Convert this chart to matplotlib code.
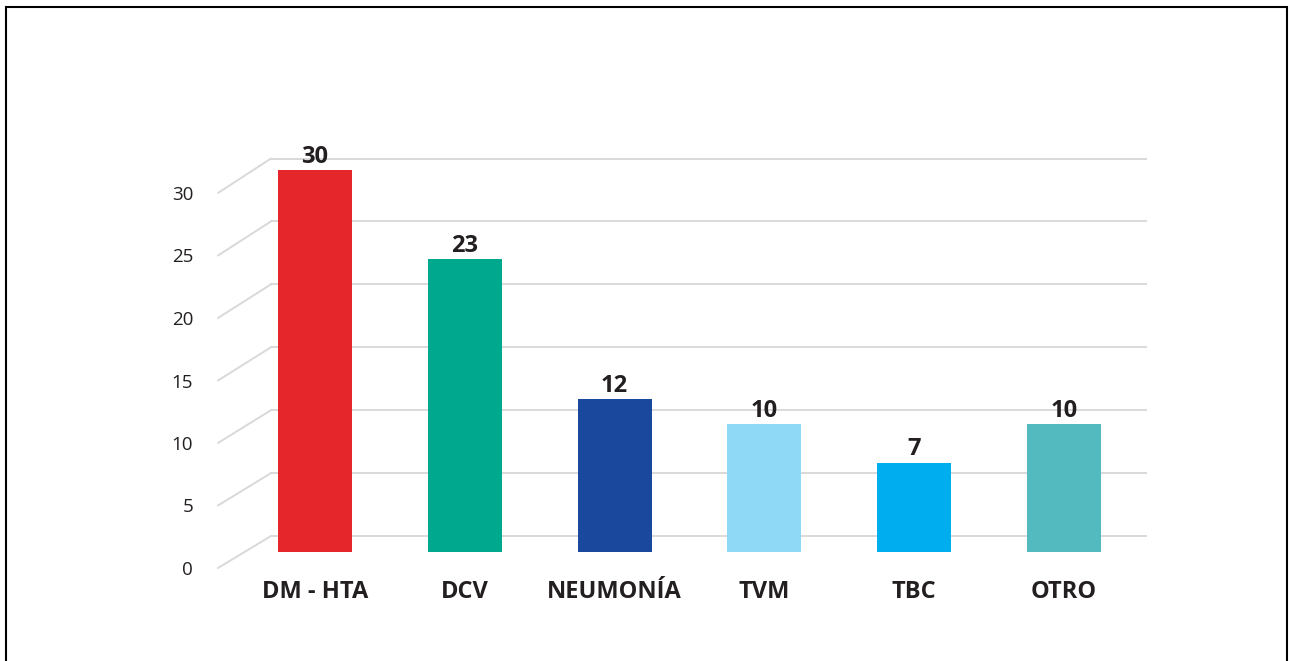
"""
Causas de ingreso - barras con pared de fondo en perspectiva
"""

import matplotlib.pyplot as plt
from matplotlib.patches import ConnectionPatch, Rectangle

# datos
categories = ['DM - HTA', 'DCV', 'NEUMONÍA', 'TVM', 'TBC', 'OTRO']
values = [30, 23, 12, 10, 7, 10]
colors = ['#e5272b', '#00a88e', '#1a489c', '#8fd8f6', '#00aeef', '#53babf']
ticks = [0, 5, 10, 15, 20, 25, 30]

W, H = 1290, 661
TXT = '#231f20'
GRID = '#d9d9d9'

plt.rcParams['font.family'] = ['Open Sans', 'DejaVu Sans']

fig = plt.figure(figsize=(W / 100, H / 100), dpi=100)


def box(x0, y0, x1, y1):
    # caja en pixeles (y desde arriba) -> coordenadas de figura
    return [x0 / W, 1 - y1 / H, (x1 - x0) / W, (y1 - y0) / H]


# pared de fondo con las lineas de cuadricula
wall = fig.add_axes(box(271, 158.5, 1146, 536))
wall.set_ylim(0, 30)
wall.set_xlim(0, 1)
wall.set_yticks(ticks)
wall.set_xticks([])
wall.grid(axis='y', color=GRID, lw=1.4)
for line in wall.get_ygridlines():
    line.set_clip_on(False)
wall.tick_params(left=False, labelleft=False)
for s in wall.spines.values():
    s.set_visible(False)

# eje frontal con las etiquetas
front = fig.add_axes(box(218, 193, 219, 568))
front.set_ylim(0, 30)
front.set_yticks(ticks)
front.set_xticks([])
front.tick_params(left=False, pad=14.4, labelsize=13.5, labelcolor=TXT)
front.patch.set_alpha(0)
for s in front.spines.values():
    s.set_visible(False)

# diagonales del piso de la perspectiva
for v in ticks:
    con = ConnectionPatch(xyA=(0, v), coordsA=front.get_yaxis_transform(),
                          xyB=(0, v), coordsB=wall.get_yaxis_transform(),
                          color=GRID, lw=1.4)
    fig.add_artist(con)

# barras
ax = fig.add_axes(box(271, 170, 1146, 551.7))
ax.patch.set_alpha(0)
x = list(range(len(categories)))
bars = ax.bar(x, values, width=0.494, color=colors)
ax.set_xlim((271 - 315) / 149.8, (1146 - 315) / 149.8)
ax.set_ylim(0, 30)
ax.axis('off')

for i, v in enumerate(values):
    ax.annotate(str(v), xy=(i, v), xytext=(0, 5.3), textcoords='offset points',
                ha='center', va='baseline', fontsize=17, fontweight='bold',
                color=TXT, annotation_clip=False)
    ax.annotate(categories[i], xy=(i, 0), xytext=(0, -33.1), textcoords='offset points',
                ha='center', va='baseline', fontsize=17, fontweight='bold',
                color=TXT, annotation_clip=False)

# marco negro
frame = Rectangle((5.5 / W, -0.1), 1281.5 / W, 1 - 6.5 / H + 0.1,
                  transform=fig.transFigure, fill=False, ec='black', lw=1.5,
                  clip_on=False)
fig.add_artist(frame)

fig.savefig('out.png', dpi=100)
